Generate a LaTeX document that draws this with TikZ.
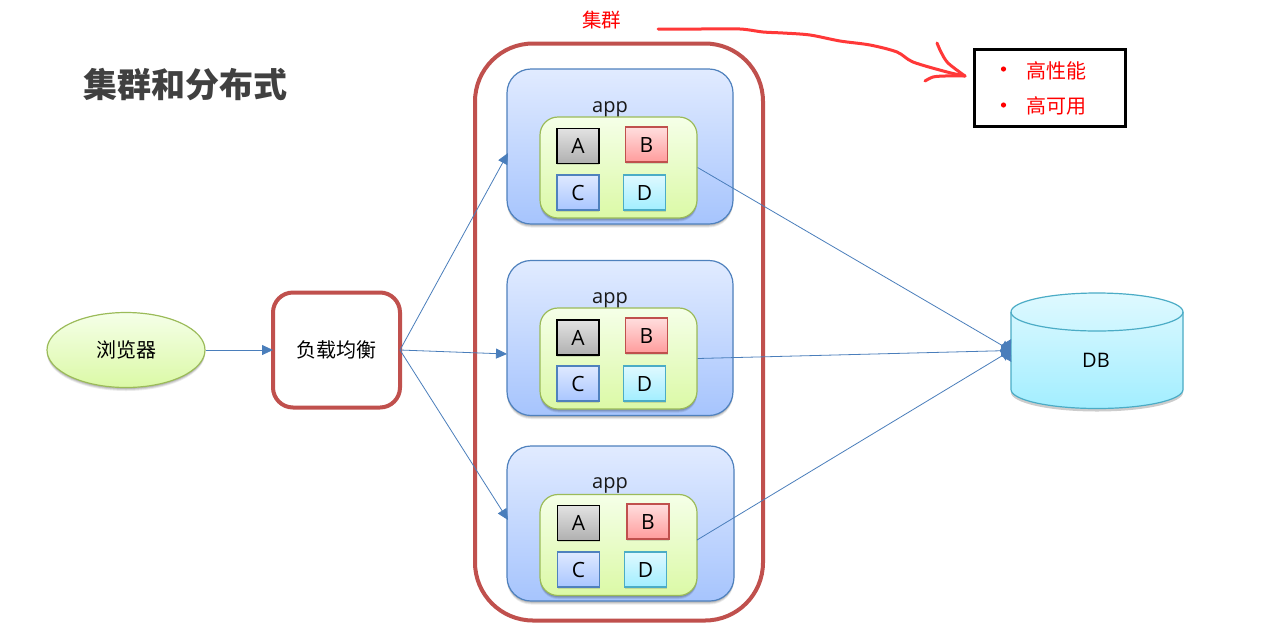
\documentclass[tikz,border=0pt]{standalone}
\usepackage{fontspec}
\setmainfont{Open Sans}
\newfontfamily\cjk{Noto Sans CJK SC}
\usetikzlibrary{arrows.meta,shadows,shapes.geometric}
\definecolor{blueln}{HTML}{4F81BD}
\definecolor{arrowc}{HTML}{4A7EBB}
\definecolor{greenln}{HTML}{9BBB59}
\definecolor{redln}{HTML}{C0504D}
\definecolor{cyanln}{HTML}{4BACC6}
\definecolor{scrib}{HTML}{FF3838}
\definecolor{E1EBFF}{HTML}{E1EBFF}
\definecolor{A6C4FD}{HTML}{A6C4FD}
\definecolor{F5FFE8}{HTML}{F5FFE8}
\definecolor{DBF9A6}{HTML}{DBF9A6}
\definecolor{E2E2E2}{HTML}{E2E2E2}
\definecolor{B0B0B0}{HTML}{B0B0B0}
\definecolor{FFDEDE}{HTML}{FFDEDE}
\definecolor{FF9C9C}{HTML}{FF9C9C}
\definecolor{DFE9FF}{HTML}{DFE9FF}
\definecolor{A9C6FF}{HTML}{A9C6FF}
\definecolor{DFF9FF}{HTML}{DFF9FF}
\definecolor{A2EEFF}{HTML}{A2EEFF}
\tikzset{
  softsh/.style={
    drop shadow={shadow xshift=0pt,shadow yshift=-3.5pt,opacity=.08,fill=black},
    drop shadow={shadow xshift=0pt,shadow yshift=-2.5pt,opacity=.10,fill=black},
    drop shadow={shadow xshift=0pt,shadow yshift=-1.5pt,opacity=.12,fill=black}},
  smallsh/.style={
    drop shadow={shadow xshift=0pt,shadow yshift=-1.5pt,opacity=.12,fill=black}},
  txt/.style={inner sep=0pt,font=\fontsize{20}{24}\selectfont,text=black},
  lettertxt/.style={inner sep=0pt,font=\fontsize{21}{24}\selectfont,text=black},
  cntxt/.style={inner sep=0pt,font=\cjk\fontsize{20}{24}\selectfont,text=black},
  redtxt/.style={inner sep=0pt,font=\cjk\fontsize{20}{24}\selectfont,text=red},
  appbox/.style={draw=blueln,line width=1.2pt,rounded corners=24pt,top color=E1EBFF,bottom color=A6C4FD,softsh,minimum width=226pt,minimum height=155pt,inner sep=0pt},
  innerbox/.style={draw=greenln,line width=1.2pt,rounded corners=18pt,top color=F5FFE8,bottom color=DBF9A6,softsh,minimum width=157pt,minimum height=101pt,inner sep=0pt},
  sq/.style={line width=1.3pt,minimum width=42pt,minimum height=35pt,inner sep=0pt,lettertxt,smallsh},
  sqa/.style={sq,draw=black,top color=E2E2E2,bottom color=B0B0B0},
  sqb/.style={sq,draw=redln,top color=FFDEDE,bottom color=FF9C9C},
  sqc/.style={sq,draw=blueln,top color=DFE9FF,bottom color=A9C6FF},
  sqd/.style={sq,draw=cyanln,top color=DFF9FF,bottom color=A2EEFF},
  redframe/.style={draw=redln,line width=4pt,outer sep=0pt},
  conn/.style={draw=arrowc,line width=.8pt},
  tipconn/.style={conn,-{Triangle[length=11pt,width=10pt,fill=arrowc]}},
  dbconn/.style={conn,-{Diamond[length=11pt,width=20pt,fill=arrowc]}},
  scribble/.style={draw=scrib,line width=3pt,line cap=round,line join=round},
}
\begin{document}
\begin{tikzpicture}[x=1pt,y=-1pt]
\useasboundingbox (0,0) rectangle (1261,633);
\fill[white] (0,0) rectangle (1261,633);

% title
\node[inner sep=0pt,font=\cjk\bfseries\fontsize{34}{40}\selectfont,text=black!75] (title) at (185.5,85) {集群和分布式};
\node[redtxt,font=\cjk\fontsize{19.5}{24}\selectfont] (cluster) at (601.5,20) {集群};

% cluster frame
\node[redframe,rounded corners=58pt,minimum width=288pt,minimum height=577pt,inner sep=0pt] (frame) at (619,332) {};

% apps: name, box cy, inner cy, label y, Ax Ay, Bx By, Cx Cy, Dx Dy
\foreach \n/\by/\iy/\ly/\ax/\ay/\bx/\bby/\cx/\cy/\dx/\dy/\bw in {
  1/146.5/167.5/109/578/146/646.5/144.5/578/192.5/644.5/192.5/226,
  2/338/358.5/300.5/578/337.5/646.5/335.5/578/383.5/644.5/383.5/226,
  3/523.5/545/485.5/578.5/523/648/521.5/578.5/569.5/645.5/569.5/227}{
  \node[appbox,minimum width=\bw pt] (app\n) at ({507+\bw/2},\by) {};
  \node[txt,text=black!90] (applbl\n) at (610,\ly) {app};
  \node[innerbox] (inner\n) at (618.5,\iy) {};
  \node[sqa] (a\n) at (\ax,\ay) {A};
  \node[sqb] (b\n) at (\bx,\bby) {B};
  \node[sqc] (c\n) at (\cx,\cy) {C};
  \node[sqd] (d\n) at (\dx,\dy) {D};
}

% browser, load balancer
\node[ellipse,draw=greenln,line width=1.2pt,top color=F5FFE8,bottom color=DBF9A6,softsh,minimum width=158pt,minimum height=75pt,inner sep=0pt,cntxt] (browser) at (126,350) {浏览器};
\node[redframe,rounded corners=20pt,fill=white,minimum width=127pt,minimum height=115pt,inner sep=0pt,cntxt] (lb) at (336.5,350) {负载均衡};

% database
\node[minimum width=172pt,minimum height=115pt,inner sep=0pt] (db) at (1097,350.5) {};
\path[drop shadow={shadow xshift=0pt,shadow yshift=-3pt,opacity=.2,fill=black},
      draw=cyanln,line width=1.2pt,top color=DFF9FF,bottom color=A2EEFF]
  (1011,312) .. controls (1011,301.5) and (1049.5,293) .. (1097,293)
  .. controls (1144.5,293) and (1183,301.5) .. (1183,312)
  -- (1183,389.5)
  .. controls (1183,400) and (1144.5,408.5) .. (1097,408.5)
  .. controls (1049.5,408.5) and (1011,400) .. (1011,389.5) -- cycle;
\draw[draw=cyanln,line width=1.2pt] (1011,312)
  .. controls (1011,322.5) and (1049.5,331) .. (1097,331)
  .. controls (1144.5,331) and (1183,322.5) .. (1183,312);
\node[txt] (dblbl) at (1096,360) {DB};

% note box
\node[draw=black,line width=3pt,minimum width=151pt,minimum height=77pt,inner sep=0pt,fill=white] (note) at (1050,88) {};
\fill[red] (1003.5,69) circle[radius=2.6pt];
\fill[red] (1003.5,105) circle[radius=2.6pt];
\node[redtxt] (n1) at (1056,70.5) {高性能};
\node[redtxt] (n2) at (1056,105.5) {高可用};

% connectors
\coordinate (a1in) at (508,153);
\coordinate (a2in) at (507,354);
\coordinate (a3in) at (508,520);
\coordinate (o3) at (697,540);
\draw[tipconn] (browser.east) -- (lb.west);
\draw[tipconn] (lb.east) -- (a1in);
\draw[tipconn] (lb.east) -- (a2in);
\draw[tipconn] (lb.east) -- (a3in);
\draw[dbconn] (inner1.east) -- (db.west);
\draw[dbconn] (inner2.east) -- (db.west);
\draw[dbconn] (o3) -- (db.west);

% hand-drawn arrow
\draw[scribble] plot[smooth,tension=.5] coordinates {(658,29) (700,29) (740,29) (763,32) (783,33) (810,35) (840,41) (870,45) (897,52) (913,62) (947,72) (965,76)};
\draw[scribble] plot[smooth,tension=.5] coordinates {(937,43) (941,52) (948,63) (965,76)};
\draw[scribble] plot[smooth,tension=.5] coordinates {(965,76) (945,76) (933,77) (925,81)};
\end{tikzpicture}
\end{document}
